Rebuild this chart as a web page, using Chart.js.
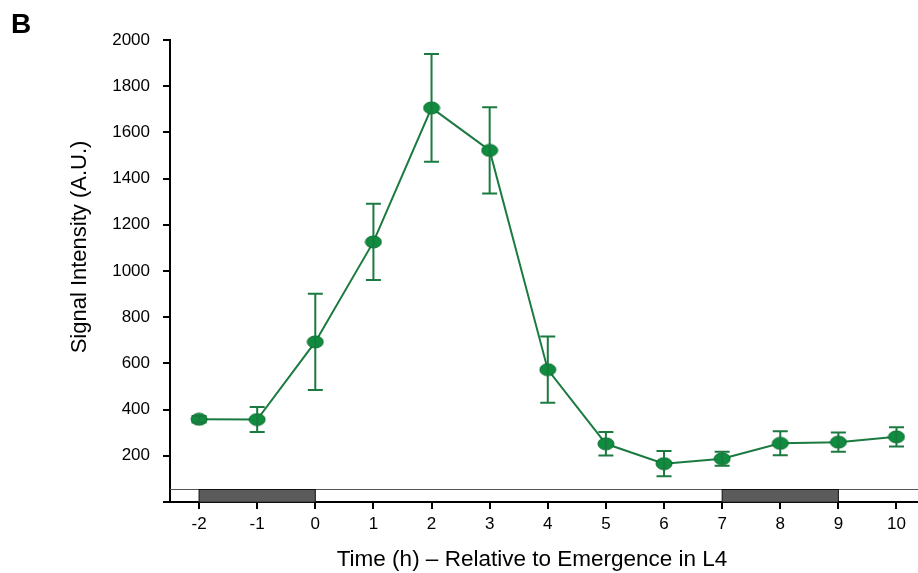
<!DOCTYPE html>
<html>
<head>
<meta charset="utf-8">
<script src="https://cdn.jsdelivr.net/npm/chart.js@4.4.0/dist/chart.umd.min.js"></script>
<style>
  html, body { margin: 0; padding: 0; background: #fff; }
  #wrap { width: 918px; height: 573px; }
</style>
</head>
<body>
<div id="wrap"><canvas id="chart" width="918" height="573"></canvas></div>
<script>
// hours relative to emergence
const hours = [-2, -1, 0, 1, 2, 3, 4, 5, 6, 7, 8, 9, 10];
const signalMean = [358, 357, 693, 1126, 1706, 1522, 573, 252, 166, 187, 254, 259, 282];
const signalErr = [14, 54, 208, 165, 233, 187, 143, 51, 55, 30, 52, 42, 42];
const yTicks = [200, 400, 600, 800, 1000, 1200, 1400, 1600, 1800, 2000];
// dark periods (lethargus) shown in the strip under the data
const darkPeriods = [[-2, 0], [7, 9]];
const stripTop = 55;

const xTitle = 'Time (h) \u2013 Relative to Emergence in L4';
const yTitle = 'Signal Intensity (A.U.)';

const lineGreen = '#1b7a40';
const dotGreen = '#0f8c3e';
const font = '"Liberation Sans", Arial, sans-serif';

// ellipse marker
const dot = document.createElement('canvas');
dot.width = 18; dot.height = 14;
{
    const c = dot.getContext('2d');
    c.beginPath();
    c.ellipse(9, 7, 8, 6, 0, 0, Math.PI * 2);
    c.fillStyle = dotGreen;
    c.fill();
    c.lineWidth = 1;
    c.strokeStyle = '#0a6b2e';
    c.stroke();
}

const stripPlugin = {
    id: 'strip',
    beforeDatasetsDraw(chart) {
        const {ctx, chartArea} = chart;
        const x = chart.scales.x, y = chart.scales.y;
        const top = y.getPixelForValue(stripTop);
        const bottom = y.getPixelForValue(0);
        ctx.save();
        ctx.strokeStyle = '#555';
        ctx.lineWidth = 1;
        ctx.beginPath();
        ctx.moveTo(chartArea.left, Math.round(top) + 0.5);
        ctx.lineTo(chartArea.right, Math.round(top) + 0.5);
        ctx.stroke();
        darkPeriods.forEach(p => {
            const x0 = x.getPixelForValue(p[0]);
            const x1 = x.getPixelForValue(p[1]);
            ctx.fillStyle = '#5b5b5b';
            ctx.fillRect(x0, top, x1 - x0, bottom - top);
            ctx.strokeStyle = '#111';
            ctx.strokeRect(x0, Math.round(top) + 0.5, x1 - x0, bottom - top);
        });
        ctx.restore();
    }
};

const errorBarPlugin = {
    id: 'errorBars',
    afterDatasetsDraw(chart) {
        const {ctx} = chart;
        const x = chart.scales.x, y = chart.scales.y;
        ctx.save();
        ctx.strokeStyle = lineGreen;
        ctx.lineWidth = 2;
        hours.forEach((h, i) => {
            const px = x.getPixelForValue(h);
            const hi = y.getPixelForValue(signalMean[i] + signalErr[i]);
            const lo = y.getPixelForValue(signalMean[i] - signalErr[i]);
            ctx.beginPath();
            ctx.moveTo(px, hi); ctx.lineTo(px, lo);
            ctx.moveTo(px - 7.5, hi); ctx.lineTo(px + 7.5, hi);
            ctx.moveTo(px - 7.5, lo); ctx.lineTo(px + 7.5, lo);
            ctx.stroke();
        });
        ctx.restore();
    }
};

// panel letter and axis titles (the original titles sit a bit off-centre)
const labelsPlugin = {
    id: 'labels',
    afterDraw(chart) {
        const {ctx, chartArea} = chart;
        ctx.save();
        ctx.fillStyle = '#000';
        ctx.textBaseline = 'alphabetic';

        ctx.font = 'bold 28px ' + font;
        ctx.textAlign = 'left';
        ctx.fillText('B', 11, 33);

        ctx.font = '22.5px ' + font;
        ctx.textAlign = 'center';
        ctx.fillText(xTitle, chartArea.left + 362, chartArea.bottom + 64);

        ctx.font = '22px ' + font;
        ctx.translate(86, chartArea.top + 207);
        ctx.rotate(-Math.PI / 2);
        ctx.fillText(yTitle, 0, 0);
        ctx.restore();
    }
};

new Chart(document.getElementById('chart'), {
    type: 'line',
    data: {
        datasets: [{
            data: hours.map((h, i) => ({x: h, y: signalMean[i]})),
            borderColor: lineGreen,
            borderWidth: 2,
            pointStyle: dot,
            pointRadius: 7,
            tension: 0,
            clip: false,
        }]
    },
    plugins: [stripPlugin, errorBarPlugin, labelsPlugin],
    options: {
        responsive: false,
        animation: false,
        events: [],
        layout: {autoPadding: false, padding: {top: 40, right: 0, left: 0, bottom: 0}},
        plugins: {
            legend: {display: false},
            tooltip: {enabled: false},
        },
        scales: {
            x: {
                type: 'linear',
                min: -2.5,
                max: 10.37,
                afterFit: scale => {
                    scale.height = 71;
                    scale.paddingLeft = 0;
                    scale.paddingRight = 0;
                },
                afterBuildTicks: scale => { scale.ticks = hours.map(v => ({value: v})); },
                border: {display: true, color: '#000', width: 2},
                grid: {drawOnChartArea: false, drawTicks: true, tickLength: 7, color: '#000', lineWidth: 2},
                ticks: {color: '#000', font: {family: font, size: 17}, padding: 5, maxRotation: 0},
            },
            y: {
                min: 0,
                max: 2000,
                afterFit: scale => { scale.width = 170; },
                afterBuildTicks: scale => { scale.ticks = [0].concat(yTicks).map(v => ({value: v})); },
                border: {display: true, color: '#000', width: 2},
                grid: {drawOnChartArea: false, drawTicks: true, tickLength: 7, color: '#000', lineWidth: 2},
                ticks: {
                    color: '#000',
                    font: {family: font, size: 17},
                    padding: 13,
                    callback: v => (v === 0 ? '' : v),
                },
            },
        },
    },
});
</script>
</body>
</html>
